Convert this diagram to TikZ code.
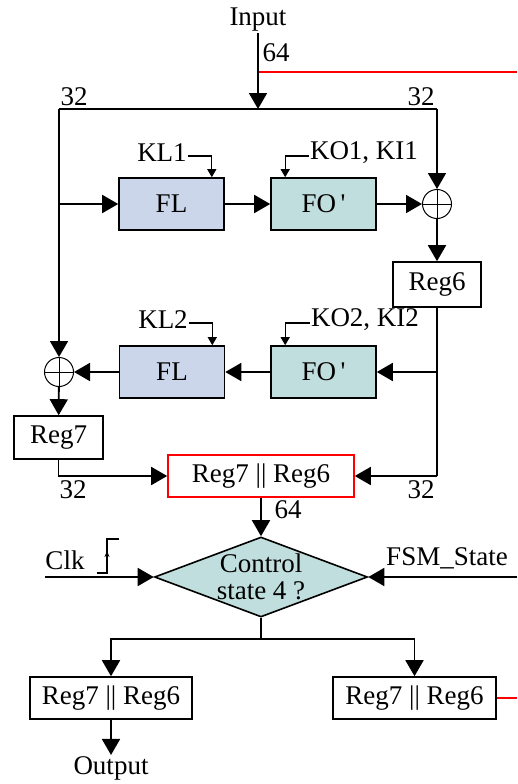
\documentclass[tikz,border=0pt]{standalone}
\usepackage{fontspec}
\setmainfont{Liberation Serif}
\usepackage{xcolor}
\usetikzlibrary{arrows.meta,positioning,shapes.geometric,calc}
\definecolor{flblue}{RGB}{204,214,234}
\definecolor{foteal}{RGB}{192,222,221}
\tikzset{
    blockbox/.style={
        draw, line width=1.6pt, inner sep=0pt,
        minimum width=105pt, minimum height=52pt},
    flbox/.style={blockbox, fill=flblue},
    fobox/.style={blockbox, fill=foteal},
    regbox/.style={draw, line width=1.6pt, inner sep=0pt, minimum height=43pt},
    catbox/.style={regbox, draw=red, minimum width=186pt, minimum height=42pt},
    xorsym/.style={
        circle, draw, line width=1pt, minimum size=29pt, inner sep=0pt,
        path picture={
            \draw[line width=1pt] (path picture bounding box.north) -- (path picture bounding box.south);
            \draw[line width=1pt] (path picture bounding box.west) -- (path picture bounding box.east);}},
    ctlnode/.style={
        diamond, draw, line width=1.6pt, fill=foteal, aspect=2.66,
        minimum width=213pt, minimum height=80pt, inner sep=0pt, align=center,
        font=\fontsize{27}{26.5}\selectfont},
    lbl/.style={inner sep=1pt},
    bus/.style={line width=1.8pt},
    flow/.style={bus, -{Triangle[length=16pt,width=18pt]}},
    keyflow/.style={line width=1.2pt, -{Triangle[length=8pt,width=9pt]}},
    redbus/.style={draw=red, line width=1.4pt},
}

\begin{document}
\begin{tikzpicture}[x=1pt, y=-1pt, font=\fontsize{27}{24}\selectfont]
    \useasboundingbox (0,0) rectangle (517,784);

    % --- Input and 32-bit split -----------------------------------------------
    \node[lbl] (in) at (258,20) {Input};
    \node[lbl] (w64a) at (276,53) {64};
    \coordinate (bus) at (258,109);
    \coordinate (busl) at (59,109);
    \coordinate (busr) at (437,109);
    \coordinate (redin) at (259,72);
    \coordinate (redout) at (517,72);
    \node[lbl] (w32a) at (74,97) {32};
    \node[lbl] (w32b) at (421,97) {32};

    % --- First round ----------------------------------------------------------
    \node[flbox] (fl1) at (171.5,204) {FL};
    \node[fobox] (fo1) at (323.5,204) {FO\,\textquotesingle};
    \node[xorsym] (xor1) at (437,204) {};
    \node[regbox, minimum width=88pt, minimum height=45pt] (reg6) at (437,284.5) {Reg6};
    \node[lbl] (kl1) at (162,153) {KL1};
    \node[lbl] (ko1) at (364,153) {KO1, KI1};
    \coordinate (lb) at (59,204);

    % --- Second round ---------------------------------------------------------
    \node[flbox] (fl2) at (172,372) {FL};
    \node[fobox] (fo2) at (323.5,372) {FO\,\textquotesingle};
    \node[xorsym] (xor2) at (59,372) {};
    \node[regbox, minimum width=89pt] (reg7) at (58.5,437.5) {Reg7};
    \node[lbl] (kl2) at (163,320) {KL2};
    \node[lbl] (ko2) at (365,320) {KO2, KI2};
    \coordinate (rb) at (437,372);
    \coordinate (rc) at (437,476);

    % --- Concatenation and control --------------------------------------------
    \node[catbox] (cat) at (261,476) {Reg7 || Reg6};
    \node[lbl] (w32c) at (73,490) {32};
    \node[lbl] (w32d) at (421,490) {32};
    \node[lbl] (w64b) at (288,510) {64};
    \node[ctlnode] (ctl) at (261,577) {Control\\state 4 ?};
    \node[lbl] (clk) at (65,560) {Clk};
    \node[lbl] (fsm) at (447,558) {FSM\_State};
    \coordinate (clkin) at (45,577);
    \coordinate (fsmin) at (517,577);

    % --- Outputs --------------------------------------------------------------
    \coordinate (br) at (261,639);
    \node[regbox, minimum width=162pt, minimum height=42pt] (outa) at (111,698) {Reg7 || Reg6};
    \node[regbox, minimum width=163pt, minimum height=42pt] (outb) at (414.5,698) {Reg7 || Reg6};
    \node[lbl] (out) at (111,768) {Output};
    \coordinate (redend) at (517,698);

    % --- Connectors -----------------------------------------------------------
    \draw[flow] (in) -- (bus);
    \draw[redbus] (redin) -- (redout);
    \draw[bus] (busl) -- (busr);
    \draw[flow] (busl) -- (xor2);
    \draw[flow] (busr) -- (xor1);
    \draw[flow] (lb) -- (fl1);
    \draw[flow] (fl1) -- (fo1);
    \draw[flow] (fo1) -- (xor1);
    \draw[flow] (xor1) -- (reg6);
    \draw[bus] (reg6) -- (rc);
    \draw[flow] (rb) -- (fo2);
    \draw[flow] (fo2) -- (fl2);
    \draw[flow] (fl2) -- (xor2);
    \draw[flow] (xor2) -- (reg7);
    \draw[flow] (reg7.south) |- (cat.west);
    \draw[flow] (rc) -- (cat.east);
    \draw[keyflow] ([yshift=-3pt]kl1.east) -| ([xshift=-13pt]fl1.north east);
    \draw[keyflow] ([yshift=-3pt]ko1.west) -| ([xshift=15pt]fo1.north west);
    \draw[keyflow] ([yshift=-3pt]kl2.east) -| ([xshift=-13pt]fl2.north east);
    \draw[keyflow] ([yshift=-3pt]ko2.west) -| ([xshift=15pt]fo2.north west);
    \draw[flow] (cat) -- (ctl);
    \draw[flow] (clkin) -- (ctl.west);
    \draw[flow] (fsmin) -- (ctl.east);
    \draw[line width=1.2pt] (97,573) -- (107,573) -- (107,539) -- (119,539);
    \draw[-{Stealth[length=6pt,width=5pt]}, line width=1pt] (107,566) -- (107,551);
    \draw[bus] (ctl) -- (br);
    \draw[flow] (br) -| (outa);
    \draw[flow] (br) -| (outb);
    \draw[redbus] (outb) -- (redend);
    \draw[flow] (outa) -- (out);

\end{tikzpicture}
\end{document}
